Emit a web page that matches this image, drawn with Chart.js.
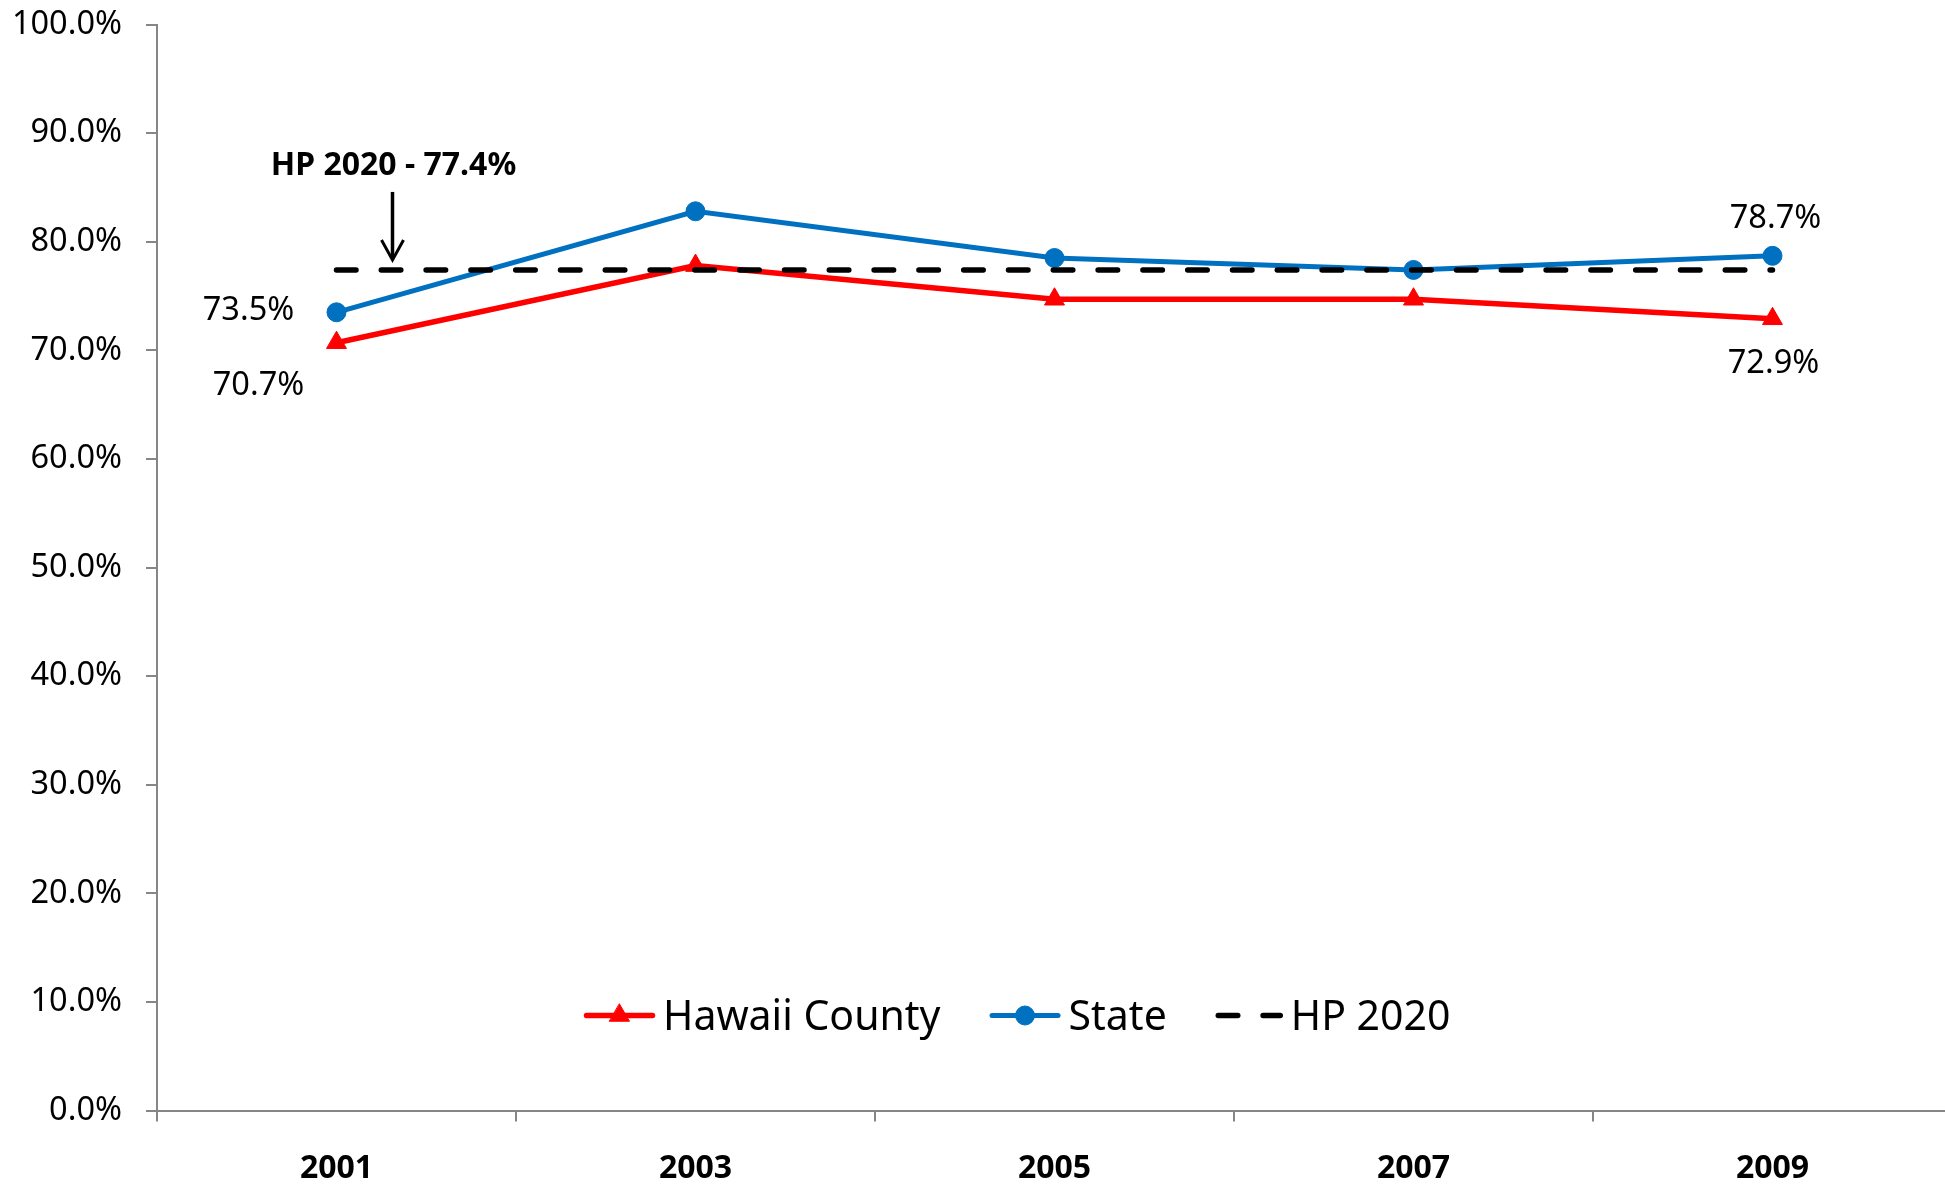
<!DOCTYPE html>
<html>
<head>
<meta charset="utf-8">
<script src="https://cdn.jsdelivr.net/npm/chart.js@4.4.1/dist/chart.umd.min.js"></script>
<style>
  html, body { margin: 0; padding: 0; background: #fff; overflow: hidden; }
  #wrap { width: 1952px; height: 1185px; }
</style>
</head>
<body>
<div id="wrap"><canvas id="grafico" width="1952" height="1185"></canvas></div>
<script>
// anos do eixo x
const anos = ['2001', '2003', '2005', '2007', '2009'];
// Hawaii County (%)
const hawaiiCounty = [70.7, 77.8, 74.7, 74.7, 72.9];
// State (%)
const estado = [73.5, 82.8, 78.5, 77.4, 78.7];
// meta HP 2020 (%)
const hp2020 = [77.4, 77.4, 77.4, 77.4, 77.4];
// rótulos do eixo y
const rotulosY = ['0.0%', '10.0%', '20.0%', '30.0%', '40.0%', '50.0%', '60.0%', '70.0%', '80.0%', '90.0%', '100.0%'];
// texto da anotação
const textoMeta = 'HP 2020 - 77.4%';

const fonte = '"Noto Sans", "DejaVu Sans", sans-serif';
const corEixo = '#868686';

// rótulos de valores (só alguns pontos)
const rotulosPlugin = {
    id: 'rotulos',
    afterDatasetsDraw(chart) {
        const ctx = chart.ctx;
        const lista = [
            { ds: 1, i: 0, dx: -88, dy: 8 },
            { ds: 0, i: 0, dx: -78, dy: 52.5 },
            { ds: 1, i: 4, dx: 3, dy: -27.5 },
            { ds: 0, i: 4, dx: 1, dy: 54.5 }
        ];
        ctx.save();
        ctx.font = '32.5px ' + fonte;
        ctx.fillStyle = '#000';
        ctx.textAlign = 'center';
        ctx.textBaseline = 'alphabetic';
        lista.forEach(r => {
            const p = chart.getDatasetMeta(r.ds).data[r.i];
            const v = chart.data.datasets[r.ds].data[r.i];
            ctx.fillText(v.toFixed(1) + '%', p.x + r.dx, p.y + r.dy);
        });
        ctx.restore();
    }
};

// seta e texto da meta
const setaPlugin = {
    id: 'seta',
    afterDatasetsDraw(chart) {
        const ctx = chart.ctx;
        const x = chart.scales.x.getPixelForValue(0) + 56;
        const ponta = chart.scales.y.getPixelForValue(hp2020[0]) - 10;
        ctx.save();
        ctx.strokeStyle = '#000';
        ctx.lineWidth = 3.5;
        ctx.beginPath();
        ctx.moveTo(x, ponta - 68);
        ctx.lineTo(x, ponta - 1);
        ctx.stroke();
        ctx.lineWidth = 3;
        ctx.beginPath();
        ctx.moveTo(x - 11, ponta - 20);
        ctx.lineTo(x, ponta);
        ctx.lineTo(x + 11, ponta - 20);
        ctx.stroke();
        ctx.font = 'bold 32px ' + fonte;
        ctx.fillStyle = '#000';
        ctx.textAlign = 'center';
        ctx.fillText(textoMeta, x + 1, ponta - 85);
        ctx.restore();
    }
};

// legenda dentro da área do gráfico
const legendaPlugin = {
    id: 'legendaInterna',
    afterDraw(chart) {
        const ctx = chart.ctx;
        const area = chart.chartArea;
        let x = area.left + 427;
        const y = area.bottom - 95;
        ctx.save();
        ctx.font = '41px ' + fonte;
        ctx.textBaseline = 'alphabetic';
        chart.data.datasets.forEach(ds => {
            const comp = ds.pointRadius ? 71 : 67;
            ctx.strokeStyle = ds.borderColor;
            ctx.lineWidth = ds.borderWidth;
            ctx.lineCap = 'round';
            ctx.setLineDash(ds.borderDash || []);
            ctx.beginPath();
            ctx.moveTo(x + 2.5, y);
            ctx.lineTo(x + comp - 2.5, y);
            ctx.stroke();
            ctx.setLineDash([]);
            if (ds.pointRadius) {
                ctx.fillStyle = ds.pointBackgroundColor;
                ctx.strokeStyle = ds.pointBorderColor;
                ctx.lineWidth = ds.pointBorderWidth;
                Chart.helpers.drawPoint(ctx, {
                    pointStyle: ds.pointStyle, rotation: 0,
                    radius: ds.pointRadius, borderWidth: ds.pointBorderWidth
                }, x + comp / 2, y);
            }
            ctx.fillStyle = '#000';
            ctx.fillText(ds.label, x + comp + 8, y + 14.5);
            x += comp + 8 + ctx.measureText(ds.label).width + 49;
        });
        ctx.restore();
    }
};

new Chart(document.getElementById('grafico'), {
    type: 'line',
    data: {
        labels: anos,
        datasets: [
            {
                label: 'Hawaii County',
                data: hawaiiCounty,
                borderColor: '#FF0000',
                borderWidth: 5.5,
                pointStyle: 'triangle',
                pointRadius: 11.5,
                pointBackgroundColor: '#FF0000',
                pointBorderColor: '#FF0000',
                pointBorderWidth: 1,
                tension: 0,
                order: 2
            },
            {
                label: 'State',
                data: estado,
                borderColor: '#0070C0',
                borderWidth: 5,
                pointStyle: 'circle',
                pointRadius: 9.5,
                pointBackgroundColor: '#0070C0',
                pointBorderColor: '#0070C0',
                pointBorderWidth: 1,
                tension: 0,
                order: 1
            },
            {
                label: 'HP 2020',
                data: hp2020,
                borderColor: '#000000',
                borderWidth: 5.5,
                borderDash: [19.5, 25.3],
                borderCapStyle: 'round',
                pointRadius: 0,
                tension: 0,
                order: 0
            }
        ]
    },
    options: {
        responsive: false,
        animation: false,
        layout: { autoPadding: false, padding: 0 },
        plugins: {
            legend: { display: false },
            tooltip: { enabled: false }
        },
        scales: {
            x: {
                offset: true,
                grid: { display: true, drawOnChartArea: false, offset: true, tickLength: 11, color: corEixo, lineWidth: 2 },
                border: { color: corEixo, width: 2 },
                ticks: { color: '#000', font: { family: fonte, size: 32, weight: 'bold' }, padding: 28 },
                afterFit(s) { s.height = 74.5; }
            },
            y: {
                min: 0,
                max: 100,
                ticks: {
                    stepSize: 10,
                    color: '#000',
                    font: { family: fonte, size: 32.5 },
                    padding: 24,
                    callback: (v, i) => rotulosY[i]
                },
                grid: { display: true, drawOnChartArea: false, tickLength: 11, color: corEixo, lineWidth: 2 },
                border: { color: corEixo, width: 2 },
                afterFit(s) {
                    s.width = 157;
                    s.paddingTop = 24.5;
                    s.paddingBottom = 0;
                }
            }
        }
    },
    plugins: [rotulosPlugin, setaPlugin, legendaPlugin]
});
</script>
</body>
</html>
